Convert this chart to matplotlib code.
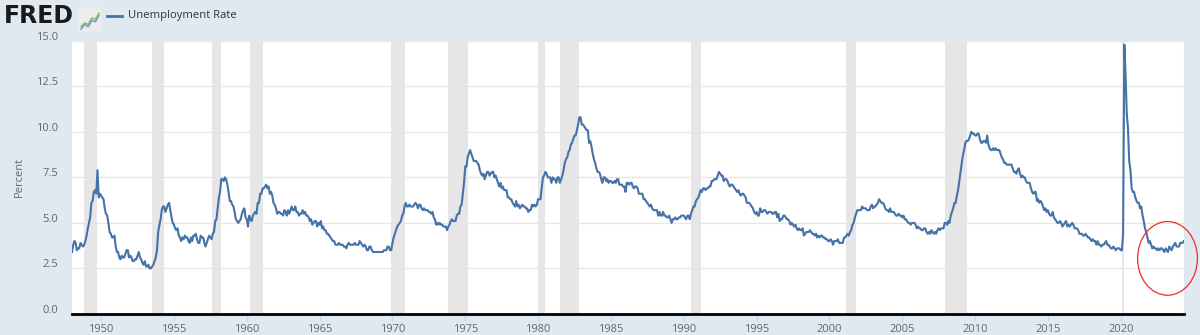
#!/usr/bin/env python3
"""FRED-style chart of the civilian unemployment rate, 1948 to 2024."""

import matplotlib

matplotlib.use("Agg")
import matplotlib.dates as mdates
import matplotlib.pyplot as plt
import matplotlib.transforms as mtransforms
import pandas as pd
from matplotlib.patches import Ellipse

START = "1948-01-01"

# monthly rate in percent, one list per decade
rate_1940s = [
    3.4, 3.8, 4.0, 3.9, 3.5, 3.6, 3.6, 3.9, 3.8, 3.7, 3.8, 4.0,
    4.3, 4.7, 5.0, 5.3, 6.1, 6.2, 6.7, 6.8, 6.6, 7.9, 6.4, 6.6,
]
rate_1950s = [
    6.5, 6.4, 6.3, 5.8, 5.5, 5.4, 5.0, 4.5, 4.4, 4.2, 4.2, 4.3,
    3.7, 3.4, 3.4, 3.1, 3.0, 3.2, 3.1, 3.1, 3.3, 3.5, 3.5, 3.1,
    3.2, 3.1, 2.9, 2.9, 3.0, 3.0, 3.2, 3.4, 3.1, 3.0, 2.8, 2.7,
    2.9, 2.6, 2.6, 2.7, 2.5, 2.5, 2.6, 2.7, 2.9, 3.1, 3.5, 4.5,
    4.9, 5.2, 5.7, 5.9, 5.9, 5.6, 5.8, 6.0, 6.1, 5.7, 5.3, 5.0,
    4.9, 4.7, 4.6, 4.7, 4.3, 4.2, 4.0, 4.2, 4.1, 4.3, 4.2, 4.2,
    4.0, 3.9, 4.2, 4.0, 4.3, 4.3, 4.4, 4.1, 3.9, 3.9, 4.3, 4.2,
    4.2, 3.9, 3.7, 3.9, 4.1, 4.3, 4.2, 4.1, 4.4, 4.5, 5.1, 5.2,
    5.8, 6.4, 6.7, 7.4, 7.4, 7.3, 7.5, 7.4, 7.1, 6.7, 6.2, 6.2,
    6.0, 5.9, 5.6, 5.2, 5.1, 5.0, 5.1, 5.2, 5.5, 5.7, 5.8, 5.3,
]
rate_1960s = [
    5.2, 4.8, 5.4, 5.2, 5.1, 5.4, 5.5, 5.6, 5.5, 6.1, 6.1, 6.6,
    6.6, 6.9, 6.9, 7.0, 7.1, 6.9, 7.0, 6.6, 6.7, 6.5, 6.1, 6.0,
    5.8, 5.5, 5.6, 5.6, 5.5, 5.5, 5.4, 5.7, 5.6, 5.4, 5.7, 5.5,
    5.7, 5.9, 5.7, 5.7, 5.9, 5.6, 5.6, 5.4, 5.5, 5.5, 5.7, 5.5,
    5.6, 5.4, 5.4, 5.3, 5.1, 5.2, 4.9, 5.0, 5.1, 5.1, 4.8, 5.0,
    4.9, 5.1, 4.7, 4.8, 4.6, 4.6, 4.4, 4.4, 4.3, 4.2, 4.1, 4.0,
    4.0, 3.8, 3.8, 3.8, 3.9, 3.8, 3.8, 3.8, 3.7, 3.7, 3.6, 3.8,
    3.9, 3.8, 3.8, 3.8, 3.8, 3.9, 3.8, 3.8, 3.8, 4.0, 3.9, 3.8,
    3.7, 3.8, 3.7, 3.5, 3.5, 3.7, 3.7, 3.5, 3.4, 3.4, 3.4, 3.4,
    3.4, 3.4, 3.4, 3.4, 3.4, 3.5, 3.5, 3.5, 3.7, 3.7, 3.5, 3.5,
]
rate_1970s = [
    3.9, 4.2, 4.4, 4.6, 4.8, 4.9, 5.0, 5.1, 5.4, 5.5, 5.9, 6.1,
    5.9, 5.9, 6.0, 5.9, 5.9, 5.9, 6.0, 6.1, 6.0, 5.8, 6.0, 6.0,
    5.8, 5.7, 5.8, 5.7, 5.7, 5.7, 5.6, 5.6, 5.5, 5.6, 5.3, 5.2,
    4.9, 5.0, 4.9, 5.0, 4.9, 4.9, 4.8, 4.8, 4.8, 4.6, 4.8, 4.9,
    5.1, 5.2, 5.1, 5.1, 5.1, 5.4, 5.5, 5.5, 5.9, 6.0, 6.6, 7.2,
    8.1, 8.1, 8.6, 8.8, 9.0, 8.8, 8.6, 8.4, 8.4, 8.4, 8.3, 8.2,
    7.9, 7.7, 7.6, 7.7, 7.4, 7.6, 7.8, 7.8, 7.6, 7.7, 7.8, 7.8,
    7.5, 7.6, 7.4, 7.2, 7.0, 7.2, 6.9, 7.0, 6.8, 6.8, 6.8, 6.4,
    6.4, 6.3, 6.3, 6.1, 6.0, 5.9, 6.2, 5.9, 6.0, 5.8, 5.9, 6.0,
    5.9, 5.9, 5.8, 5.8, 5.6, 5.7, 5.7, 6.0, 5.9, 6.0, 5.9, 6.0,
]
rate_1980s = [
    6.3, 6.3, 6.3, 6.9, 7.5, 7.6, 7.8, 7.7, 7.5, 7.5, 7.5, 7.2,
    7.5, 7.4, 7.4, 7.2, 7.5, 7.5, 7.2, 7.4, 7.6, 7.9, 8.3, 8.5,
    8.6, 8.9, 9.0, 9.3, 9.4, 9.6, 9.8, 9.8, 10.1, 10.4, 10.8, 10.8,
    10.4, 10.4, 10.3, 10.2, 10.1, 10.1, 9.4, 9.5, 9.2, 8.8, 8.5, 8.3,
    8.0, 7.8, 7.8, 7.7, 7.4, 7.2, 7.5, 7.5, 7.3, 7.4, 7.2, 7.3,
    7.3, 7.2, 7.2, 7.3, 7.2, 7.4, 7.4, 7.1, 7.1, 7.1, 7.0, 7.0,
    6.7, 7.2, 7.2, 7.1, 7.2, 7.2, 7.0, 6.9, 7.0, 7.0, 6.9, 6.6,
    6.6, 6.6, 6.6, 6.3, 6.3, 6.2, 6.1, 6.0, 5.9, 6.0, 5.8, 5.7,
    5.7, 5.7, 5.7, 5.4, 5.6, 5.4, 5.4, 5.6, 5.4, 5.4, 5.3, 5.3,
    5.4, 5.2, 5.0, 5.2, 5.2, 5.3, 5.2, 5.2, 5.3, 5.3, 5.4, 5.4,
]
rate_1990s = [
    5.4, 5.3, 5.2, 5.4, 5.4, 5.2, 5.5, 5.7, 5.9, 5.9, 6.2, 6.3,
    6.4, 6.6, 6.8, 6.7, 6.9, 6.9, 6.8, 6.9, 6.9, 7.0, 7.0, 7.3,
    7.3, 7.4, 7.4, 7.4, 7.6, 7.8, 7.7, 7.6, 7.6, 7.3, 7.4, 7.4,
    7.3, 7.1, 7.0, 7.1, 7.1, 7.0, 6.9, 6.8, 6.7, 6.8, 6.6, 6.5,
    6.6, 6.6, 6.5, 6.4, 6.1, 6.1, 6.1, 6.0, 5.9, 5.8, 5.6, 5.5,
    5.6, 5.4, 5.4, 5.8, 5.6, 5.6, 5.7, 5.7, 5.6, 5.5, 5.6, 5.6,
    5.6, 5.5, 5.5, 5.6, 5.6, 5.3, 5.5, 5.1, 5.2, 5.2, 5.4, 5.4,
    5.3, 5.2, 5.2, 5.1, 4.9, 5.0, 4.9, 4.8, 4.9, 4.7, 4.6, 4.7,
    4.6, 4.6, 4.7, 4.3, 4.4, 4.5, 4.5, 4.5, 4.6, 4.5, 4.4, 4.4,
    4.3, 4.4, 4.2, 4.3, 4.2, 4.3, 4.3, 4.2, 4.2, 4.1, 4.1, 4.0,
]
rate_2000s = [
    4.0, 4.1, 4.0, 3.8, 4.0, 4.0, 4.0, 4.1, 3.9, 3.9, 3.9, 3.9,
    4.2, 4.2, 4.3, 4.4, 4.3, 4.5, 4.6, 4.9, 5.0, 5.3, 5.5, 5.7,
    5.7, 5.7, 5.7, 5.9, 5.8, 5.8, 5.8, 5.7, 5.7, 5.7, 5.9, 6.0,
    5.8, 5.9, 5.9, 6.0, 6.1, 6.3, 6.2, 6.1, 6.1, 6.0, 5.8, 5.7,
    5.7, 5.6, 5.8, 5.6, 5.6, 5.6, 5.5, 5.4, 5.4, 5.5, 5.4, 5.4,
    5.3, 5.4, 5.2, 5.2, 5.1, 5.0, 5.0, 4.9, 5.0, 5.0, 5.0, 4.9,
    4.7, 4.8, 4.7, 4.7, 4.6, 4.6, 4.7, 4.7, 4.5, 4.4, 4.5, 4.4,
    4.6, 4.5, 4.4, 4.5, 4.4, 4.6, 4.7, 4.6, 4.7, 4.7, 4.7, 5.0,
    5.0, 4.9, 5.1, 5.0, 5.4, 5.6, 5.8, 6.1, 6.1, 6.5, 6.8, 7.3,
    7.8, 8.3, 8.7, 9.0, 9.4, 9.5, 9.5, 9.6, 9.8, 10.0, 9.9, 9.9,
]
rate_2010s = [
    9.8, 9.8, 9.9, 9.9, 9.6, 9.4, 9.4, 9.5, 9.5, 9.4, 9.8, 9.3,
    9.1, 9.0, 9.0, 9.1, 9.0, 9.1, 9.0, 9.0, 9.0, 8.8, 8.6, 8.5,
    8.3, 8.3, 8.2, 8.2, 8.2, 8.2, 8.2, 8.0, 7.8, 7.8, 7.7, 7.9,
    8.0, 7.7, 7.5, 7.6, 7.5, 7.5, 7.3, 7.2, 7.2, 7.2, 6.9, 6.7,
    6.6, 6.7, 6.7, 6.2, 6.3, 6.1, 6.2, 6.1, 5.9, 5.7, 5.8, 5.6,
    5.7, 5.5, 5.4, 5.4, 5.6, 5.3, 5.2, 5.1, 5.0, 5.0, 5.1, 5.0,
    4.8, 4.9, 5.0, 5.1, 4.8, 4.9, 4.8, 4.9, 5.0, 4.9, 4.7, 4.7,
    4.7, 4.6, 4.4, 4.4, 4.4, 4.3, 4.3, 4.4, 4.3, 4.2, 4.2, 4.1,
    4.0, 4.1, 4.0, 4.0, 3.8, 4.0, 3.8, 3.8, 3.7, 3.8, 3.8, 3.9,
    4.0, 3.8, 3.8, 3.7, 3.6, 3.6, 3.7, 3.6, 3.5, 3.6, 3.6, 3.6,
]
rate_2020s = [
    3.5, 3.5, 4.4, 14.8, 13.2, 11.0, 10.2, 8.4, 7.9, 6.9, 6.7, 6.7,
    6.4, 6.2, 6.1, 6.1, 5.8, 5.9, 5.4, 5.1, 4.7, 4.5, 4.2, 3.9,
    4.0, 3.8, 3.6, 3.7, 3.6, 3.6, 3.5, 3.6, 3.5, 3.6, 3.6, 3.5,
    3.4, 3.6, 3.5, 3.4, 3.7, 3.6, 3.5, 3.7, 3.8, 3.9, 3.7, 3.7,
    3.7, 3.9, 3.9, 3.9, 4.0,
]

# NBER recessions (peak month, trough month)
recession_start = [
    "1948-11", "1953-07", "1957-08", "1960-04", "1969-12", "1973-11",
    "1980-01", "1981-07", "1990-07", "2001-03", "2007-12", "2020-02",
]
recession_end = [
    "1949-10", "1954-05", "1958-04", "1961-02", "1970-11", "1975-03",
    "1980-07", "1982-11", "1991-03", "2001-11", "2009-06", "2020-04",
]

y_ticks = [0.0, 2.5, 5.0, 7.5, 10.0, 12.5, 15.0]
x_tick_years = list(range(1950, 2021, 5))

# the little FRED chart icon
icon_green = [0.2, 0.35, 0.3, 0.55, 0.5, 0.75]
icon_blue = [0.1, 0.3, 0.2, 0.45, 0.4, 0.65]

BG = "#e1e9f0"
LINE = "#4572a7"
SHADE = "#e6e6e6"
TEXT = "#666666"

plt.rcParams["font.family"] = ["Open Sans", "DejaVu Sans"]

rates = rate_1940s + rate_1950s + rate_1960s + rate_1970s + rate_1980s
rates += rate_1990s + rate_2000s + rate_2010s + rate_2020s
dates = pd.date_range(START, periods=len(rates), freq="MS")

fig = plt.figure(figsize=(12, 3.35), dpi=100, facecolor=BG)
ax = fig.add_axes([0.06, 0.063, 0.9265, 0.815])
ax.set_facecolor("white")

for start, end in zip(recession_start, recession_end):
    ax.axvspan(pd.Timestamp(start), pd.Timestamp(end), color=SHADE, lw=0, zorder=1)

ax.plot(dates, rates, color=LINE, lw=1.5, zorder=3)

ax.set_xlim(dates[0], dates[-1])
ax.set_ylim(0, 15)
ax.set_yticks(y_ticks)
ax.set_yticklabels([f"{v:.1f}" for v in y_ticks])
ax.set_xticks([pd.Timestamp(f"{y}-01-01") for y in x_tick_years])
ax.xaxis.set_major_formatter(mdates.DateFormatter("%Y"))
ax.grid(axis="y", color="#e6e6e6", lw=1, zorder=0)

for side in ("top", "left"):
    ax.spines[side].set_visible(False)
ax.spines["right"].set_color("#dde5ee")
ax.spines["bottom"].set_color("black")
ax.spines["bottom"].set_linewidth(2)
ax.spines["bottom"].set_zorder(4)

ax.tick_params(axis="y", length=0, pad=10, labelsize=8, labelcolor=TEXT)
ax.tick_params(axis="x", length=5, width=1, color="#ccd6eb", pad=2,
               labelsize=8, labelcolor=TEXT)
ax.set_ylabel("Percent", fontsize=8, color=TEXT, labelpad=8)

# y labels sit a little above their gridlines, as on FRED
lift = mtransforms.ScaledTranslation(0, 5 / 100, fig.dpi_scale_trans)
for label in ax.get_yticklabels():
    label.set_transform(label.get_transform() + lift)

# header: logo and legend
fig.text(0.003, 0.952, "FRED", fontsize=17, fontweight="bold", color="#1a1a1a",
         family=["DejaVu Sans"], va="center", ha="left")
icon = fig.add_axes([0.066, 0.905, 0.018, 0.075])
icon.set_facecolor("#ececec")
icon.plot(range(len(icon_green)), icon_green, color="#8fbf5a", lw=1.1)
icon.plot(range(len(icon_blue)), icon_blue, color="#7a9cc6", lw=1.1)
icon.set_xlim(-0.5, len(icon_green) - 0.5)
icon.set_ylim(0, 1)
icon.set_xticks([])
icon.set_yticks([])
for spine in icon.spines.values():
    spine.set_visible(False)

fig.add_artist(plt.Line2D([0.0895, 0.1015], [0.953, 0.953], color=LINE, lw=2,
                          transform=fig.transFigure))
fig.text(0.1065, 0.953, "Unemployment Rate", fontsize=8.1, color="#333333",
         va="center", ha="left")

# red circle around the latest readings
center_x = mdates.date2num(pd.Timestamp("2023-03-20"))
circle = Ellipse((center_x, 3.05), width=1500, height=4.05, fill=False,
                 ec="#e8302a", lw=0.9, zorder=5)
circle.set_clip_on(False)
ax.add_patch(circle)

fig.savefig("out.png", dpi=100, facecolor=BG)
